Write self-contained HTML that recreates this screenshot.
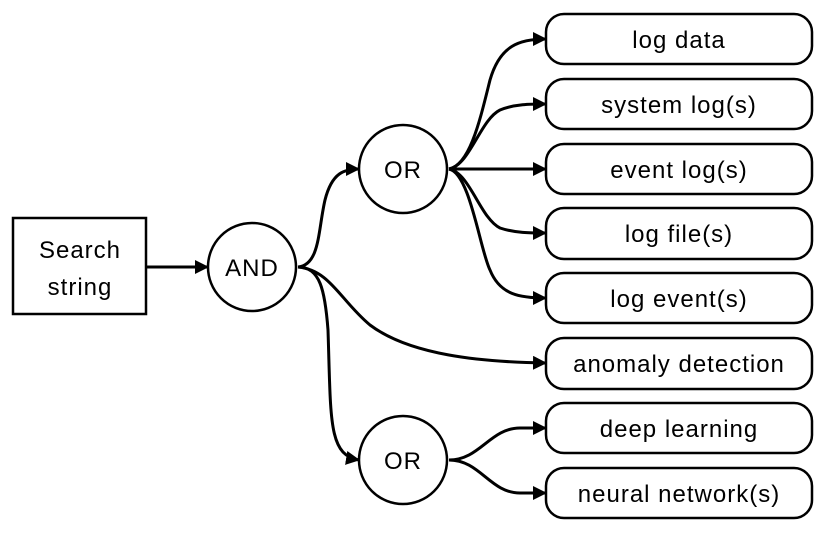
<!DOCTYPE html>
<html><head><style>html,body{margin:0;padding:0;background:#fff}svg{display:block}</style></head>
<body>
<svg width="831" height="534" viewBox="0 0 831 534" xmlns="http://www.w3.org/2000/svg" font-family="'Liberation Sans', sans-serif" font-size="24" text-anchor="middle">
<defs><marker id="a" markerWidth="14" markerHeight="14" refX="13" refY="7" orient="auto" markerUnits="userSpaceOnUse"><path d="M0,0 L14,7 L0,14 Z" fill="#000"/></marker></defs>
<g fill="none" stroke="#000" stroke-width="3">
<rect x="13" y="218" width="133" height="96" stroke-width="2.5"/>
<circle cx="252" cy="267" r="44" stroke-width="2.5"/>
<circle cx="403" cy="169" r="44" stroke-width="2.5"/>
<circle cx="403" cy="460" r="44" stroke-width="2.5"/>
<g stroke-width="2.5">
<rect x="546" y="14" width="266" height="50" rx="18"/>
<rect x="546" y="79" width="266" height="50" rx="18"/>
<rect x="546" y="144" width="266" height="50" rx="18"/>
<rect x="546" y="208" width="266" height="51" rx="18"/>
<rect x="546" y="273" width="266" height="50" rx="18"/>
<rect x="546" y="338" width="266" height="51" rx="18"/>
<rect x="546" y="403" width="266" height="50" rx="18"/>
<rect x="546" y="468" width="266" height="50" rx="18"/>
</g>
<path d="M146,267 L208,267" marker-end="url(#a)"/>
<path d="M298,267 C320,265 318,230 325,200 C332,172 345,169 359,169" marker-end="url(#a)"/>
<path d="M298,267 C320,267 325,290 328,330 C331,420 328,455 359,460" marker-end="url(#a)"/>
<path d="M298,267 C330,270 340,300 370,325 C410,355 480,362 546,363" marker-end="url(#a)"/>
<path d="M449,169 L546,169" marker-end="url(#a)"/>
<path d="M449,169 C470,165 480,120 490,80 C500,45 520,39 546,39" marker-end="url(#a)"/>
<path d="M449,169 C470,165 480,120 500,110 C515,104 530,104 546,104" marker-end="url(#a)"/>
<path d="M449,169 C470,173 480,218 500,228 C515,233 530,233 546,233" marker-end="url(#a)"/>
<path d="M449,169 C470,173 480,250 490,270 C500,295 520,298 546,298" marker-end="url(#a)"/>
<path d="M449,460 C480,460 490,428 520,428 L546,428" marker-end="url(#a)"/>
<path d="M449,460 C480,460 490,493 520,493 L546,493" marker-end="url(#a)"/>
</g>
<g fill="#000" letter-spacing="1">
<text x="80" y="258">Search</text>
<text x="80" y="295">string</text>
<text x="252" y="276">AND</text>
<text x="403" y="178">OR</text>
<text x="403" y="469">OR</text>
<text x="679" y="48">log data</text>
<text x="679" y="113">system log(s)</text>
<text x="679" y="178">event log(s)</text>
<text x="679" y="242">log file(s)</text>
<text x="679" y="307">log event(s)</text>
<text x="679" y="372">anomaly detection</text>
<text x="679" y="437">deep learning</text>
<text x="679" y="502">neural network(s)</text>
</g>
</svg>
</body></html>
